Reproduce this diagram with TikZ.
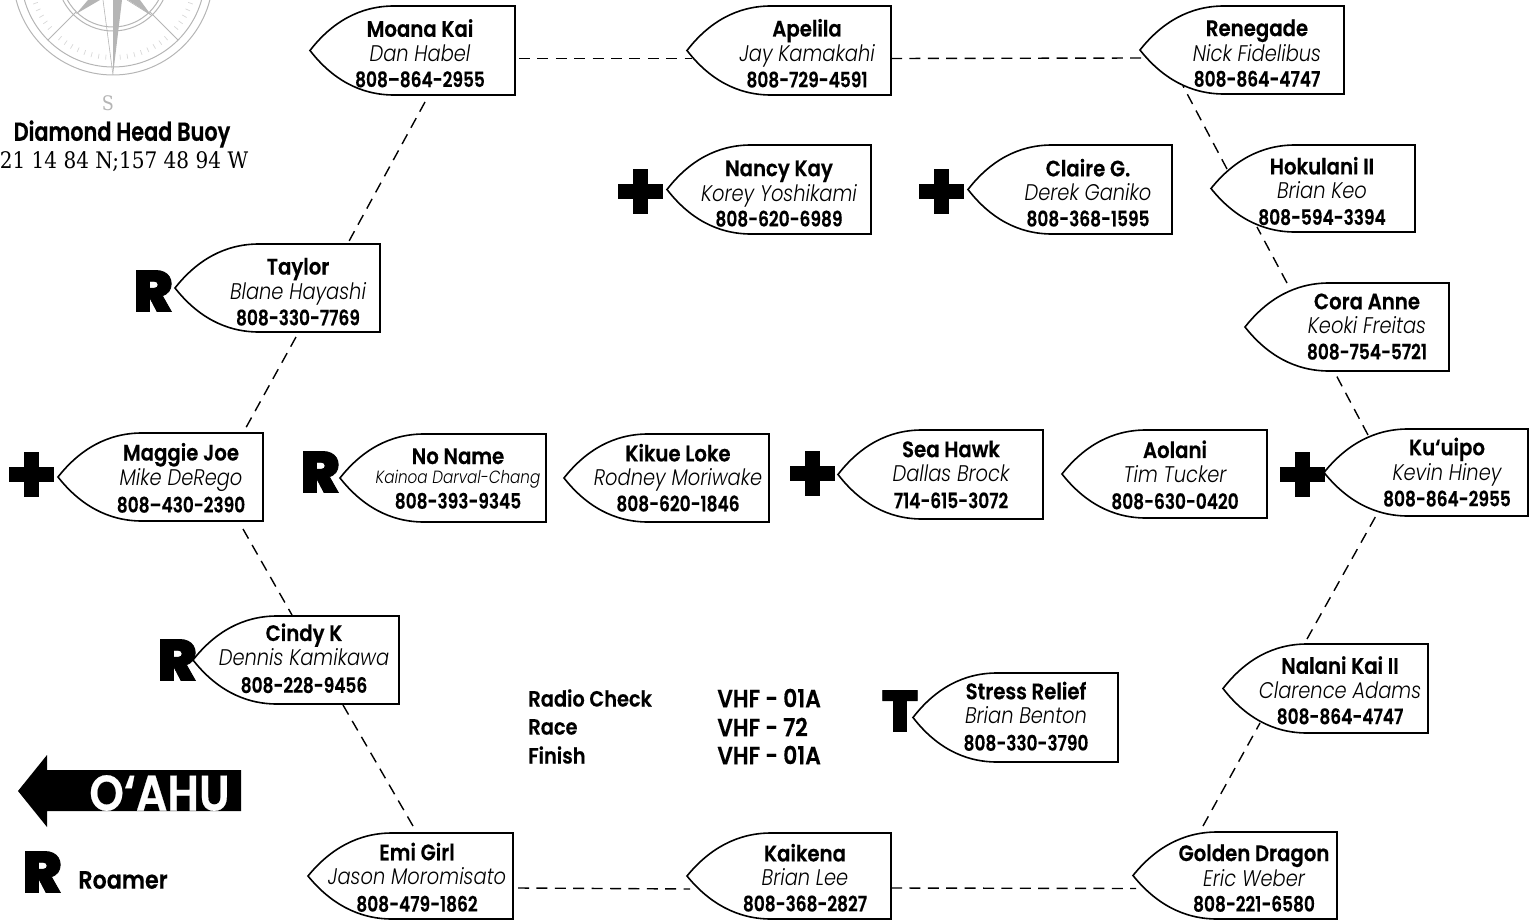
\documentclass[tikz,border=0pt]{standalone}
\usepackage{fontspec}
\usetikzlibrary{calc}
\setmainfont{Poppins}[FakeStretch=0.88]
\newfontfamily\lightfont{Poppins Light}[FakeStretch=0.86]
\newfontfamily\namefont{Poppins SemiBold}[FakeStretch=0.88,FakeBold=0.4]
\newfontfamily\numfont{Poppins SemiBold}[FakeStretch=0.80,FakeBold=0.4]
\newfontfamily\buoyfont{Poppins SemiBold}[FakeStretch=0.80,FakeBold=0.6]
\newfontfamily\heavyfont{Poppins Black}[FakeBold=1.5]
\newfontfamily\slabfont{DejaVu Serif}[FakeStretch=0.88]
\definecolor{compassgray}{HTML}{B5B5B5}
\definecolor{tickgray}{HTML}{D8D8D8}
\newcommand{\namesize}{\fontsize{11.2}{11}\namefont}
\newcommand{\numsize}{\fontsize{10.6}{11}\numfont}
\newcommand{\skipsize}{\fontsize{11.3}{11}\lightfont\itshape}
\tikzset{
  boatline/.style={line width=0.8pt, fill=white, line join=miter},
  boattext/.style={align=center, inner sep=0pt, font=\fontsize{10.6}{#1}\selectfont},
  conn/.style={line width=0.7pt, dash pattern=on 5.5pt off 3.7pt},
  heavymark/.style={inner sep=0pt, text=black, font=\fontsize{29}{29}\heavyfont},
  plainlabel/.style={inner sep=0pt, anchor=west, font=\fontsize{11}{12}\namefont},
  vhflabel/.style={inner sep=0pt, anchor=west, font=\fontsize{12.4}{13}\namefont},
  compass/.style={draw=compassgray, line width=0.5pt},
}
\newcommand{\boat}[7]{%
  \pgfmathsetmacro{\bw}{(#4-#2)/2}\pgfmathsetmacro{\bh}{(#5-#3)/2}%
  \node[minimum width=\bw pt, minimum height=\bh pt, inner sep=0pt, outer sep=0pt] (#1) at ({(#2+#4)/2},{(#3+#5)/2}) {};
  \pgfmathsetmacro{\ym}{(#3+#5)/2}%
  \draw[boatline] (#2,\ym) .. controls ({#2+22},{#3+16}) and ({#2+50},#3) .. ({#2+84},#3)
     -- (#4,#3) -- (#4,#5) -- ({#2+84},#5) .. controls ({#2+50},#5) and ({#2+22},{#5-16}) .. (#2,\ym) -- cycle;
  \def\bname{#1}\def\btx{#6}\def\bty{#7}\boattextrest}
\newcommand{\boattextrest}[4]{%
  \node[boattext=#1pt] (\bname-text) at (\btx,\bty) {\strut\raisebox{-0.7pt}{\namesize #2}\\\strut\raisebox{1.2pt}{\skipsize #3}\\\strut{\numsize #4}};}
\newcommand{\plusmark}[3]{%
  \node[minimum size=0pt, inner sep=0pt] (#1) at (#2,#3) {};
  \fill[black] ([shift={(-7.5,-22.5)}]#1) rectangle ([shift={(7.5,22.5)}]#1);
  \fill[black] ([shift={(-22.5,-7.5)}]#1) rectangle ([shift={(22.5,7.5)}]#1);}
\begin{document}
\begin{tikzpicture}[x=0.5pt,y=-0.5pt]
\useasboundingbox (0,0) rectangle (1536,920);
\begin{scope}
\clip (0,0) rectangle (1536,920);
\coordinate (cc) at (113,-25);
\foreach \r in {100,92,56,52} \draw[compass] (cc) circle[radius=\r*0.5pt];
\foreach \a in {0,5,...,355} \draw[tickgray, line width=0.35pt] ($(cc)+(\a:80)$) -- ($(cc)+(\a:85)$);
\draw[compass] ($(cc)+(-37,37)$) -- ($(cc)+(-65,65)$);
\draw[compass] ($(cc)+(37,37)$) -- ($(cc)+(65,65)$);
\draw[compass, line width=0.3pt] (103,0) -- (113,75);
\fill[compassgray] (113,75) -- (122,0) -- (113,0) -- cycle;
\fill[compassgray] (76,14) -- (100,0) -- (88,0) -- cycle;
\draw[compass, line width=0.3pt] (127,0) -- (151,15);
\fill[compassgray] (151,15) -- (140,0) -- (128,0) -- cycle;
\end{scope}
\node[inner sep=0pt, text=compassgray, font=\fontsize{10}{12}\slabfont] (south) at (108,103) {S};
\node[inner sep=0pt, font=\fontsize{13}{14}\buoyfont] (buoy) at (122,134) {Diamond Head Buoy};
\node[inner sep=0pt, font=\fontsize{11.4}{14}\slabfont] (coords) at (124,162) {21 14 84 N;157 48 94 W};
\boat{moana}{310}{6}{515}{95}{420}{56.5}{11.75}{Moana Kai}{Dan Habel}{808–864-2955}
\boat{apelila}{687}{6}{891}{95}{807}{56.5}{11.75}{Apelila}{Jay Kamakahi}{808-729-4591}
\boat{renegade}{1140}{6}{1344}{94}{1257}{56}{11.5}{Renegade}{Nick Fidelibus}{808-864-4747}
\boat{nancy}{667}{145}{871}{234}{779}{196}{11.5}{Nancy Kay}{Korey Yoshikami}{808-620-6989}
\boat{claire}{968}{145}{1172}{234}{1088}{196}{11.5}{Claire G.}{Derek Ganiko}{808-368-1595}
\boat{hokulani}{1211}{145}{1415}{232}{1322}{194}{10.5}{Hokulani II}{Brian Keo}{808-594-3394}
\boat{taylor}{175}{244}{380}{332}{298}{294.5}{11.75}{Taylor}{Blane Hayashi}{808-330-7769}
\boat{cora}{1245}{283}{1449}{371}{1367}{329.5}{10.25}{Cora Anne}{Keoki Freitas}{808-754-5721}
\boat{maggie}{58}{433}{263}{521}{181}{481}{11}{Maggie Joe}{Mike DeRego}{808–430-2390}
\boat{noname}{340}{434}{546}{522}{458}{481}{11.5}{No Name}{\fontsize{8.85}{11}\lightfont\itshape Kainoa Darval-Chang}{808-393-9345}
\boat{kikue}{564}{434}{769}{522}{678}{481}{11.5}{Kikue Loke}{Rodney Moriwake}{808-620-1846}
\boat{seahawk}{838}{430}{1043}{519}{951}{477.5}{11.25}{Sea Hawk}{Dallas Brock}{714-615-3072}
\boat{aolani}{1062}{430}{1267}{518}{1175}{478}{11}{Aolani}{Tim Tucker}{808-630-0420}
\boat{kuuipo}{1324}{429}{1528}{516}{1447}{475}{10}{Ku‘uipo}{Kevin Hiney}{808-864-2955}
\boat{cindy}{193}{616}{399}{704}{304}{661.5}{11.25}{Cindy K}{Dennis Kamikawa}{808-228-9456}
\boat{nalani}{1223}{644}{1428}{733}{1340}{693.5}{11.75}{Nalani Kai II}{Clarence Adams}{808-864-4747}
\boat{stress}{913}{673}{1118}{762}{1026}{719.5}{11.25}{Stress Relief}{Brian Benton}{808-330-3790}
\boat{emi}{308}{833}{513}{919}{417}{880.5}{11.25}{Emi Girl}{Jason Moromisato}{808-479-1862}
\boat{kaikena}{687}{833}{891}{919}{805}{881}{11.5}{Kaikena}{Brian Lee}{808-368-2827}
\boat{golden}{1133}{832}{1337}{919}{1254}{881}{11.5}{Golden Dragon}{Eric Weber}{808-221-6580}
\draw[conn] ([shift={(4,8)}]moana.east) -- ([shift={(5,8)}]apelila.west);
\draw[conn] ([shift={(0,8)}]apelila.east) -- ([shift={(3,8)}]renegade.west);
\draw[conn] ([shift={(-90,7)}]moana.south east) -- ([shift={(-32,-1)}]taylor.north east);
\draw[conn] ([shift={(-84,5)}]taylor.south east) -- ([shift={(-20,0)}]maggie.north east);
\draw[conn] ([shift={(-20,8)}]maggie.south east) -- ([shift={(-107,-1)}]cindy.north east);
\draw[conn] ([shift={(-56,1)}]cindy.south east) -- ([shift={(-100,-7)}]emi.north east);
\draw[conn] ([shift={(5,-31)}]emi.south east) -- ([shift={(3,13)}]kaikena.west);
\draw[conn] ([shift={(0,-31)}]kaikena.south east) -- ([shift={(3,13)}]golden.west);
\draw[conn] ([shift={(-134,-6)}]golden.north east) -- ([shift={(-168,-10)}]nalani.south east);
\draw[conn] ([shift={(-121,-5)}]nalani.north east) -- ([shift={(-151,-2)}]kuuipo.south east);
\draw[conn] ([shift={(-160,6)}]kuuipo.north east) -- ([shift={(-114,2)}]cora.south east);
\draw[conn] ([shift={(-162,0)}]cora.north east) -- ([shift={(-158,-5)}]hokulani.south east);
\draw[conn] ([shift={(-188,24)}]hokulani.north east) -- ([shift={(-161,-8)}]renegade.south east);
\plusmark{plusnancy}{640}{191}
\plusmark{plusclaire}{941}{191}
\plusmark{plusmaggie}{31}{474}
\plusmark{plusseahawk}{812}{473}
\plusmark{pluskuuipo}{1302}{474}
\node[heavymark] (rtaylor) at (153,291) {R};
\node[heavymark] (rnoname) at (320,472) {R};
\node[heavymark] (rcindy) at (177,660) {R};
\node[heavymark] (rlegend) at (42,872) {R};
\node[heavymark] (tstress) at (900,711) {T};
\node[plainlabel, font=\fontsize{12.6}{14}\namefont] (roamer) at (78,880) {Roamer};
\node[plainlabel] (radio) at (528,698) {Radio Check};
\node[plainlabel] (race) at (528,727) {Race};
\node[plainlabel] (finish) at (528,755) {Finish};
\node[vhflabel] (vhfa) at (717,698) {VHF - 01A};
\node[vhflabel] (vhfb) at (717,727) {VHF - 72};
\node[vhflabel] (vhfc) at (717,755) {VHF - 01A};
\fill[black] (18,791) -- (47,755) -- (47,770) -- (241,770) -- (241,811) -- (47,811) -- (47,827) -- cycle;
\node[inner sep=0pt, text=white, font=\fontsize{25}{27}\namefont] (oahu) at (159.5,793) {O‘AHU};
\end{tikzpicture}
\end{document}
